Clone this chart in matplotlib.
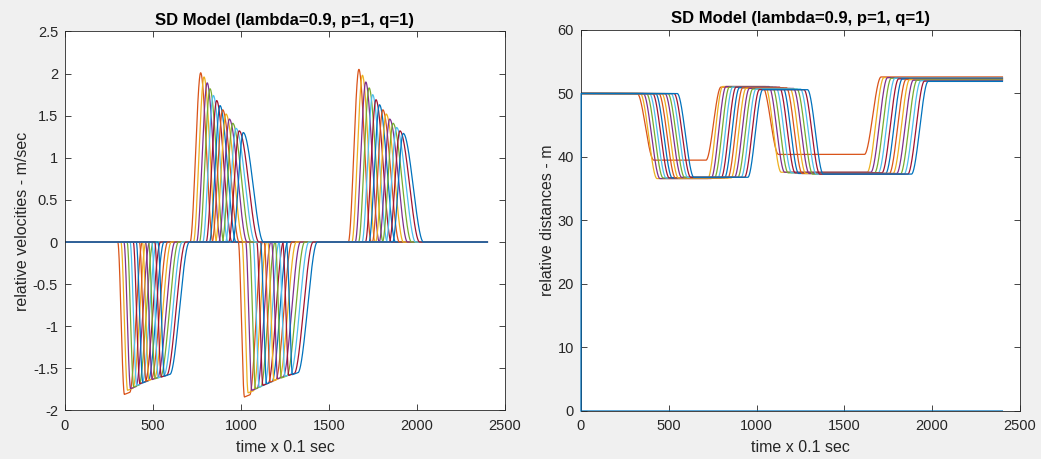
import numpy as np
import matplotlib
matplotlib.use("Agg")
import matplotlib.pyplot as plt

plt.rcParams['font.family'] = ['Liberation Sans', 'DejaVu Sans']

# ---------------- data ----------------
t_max = 2400
title_text = "SD Model (lambda=0.9, p=1, q=1)"
x_label = "time x 0.1 sec"
y_label_vel = "relative velocities - m/sec"
y_label_dist = "relative distances - m"
x_ticks = [0, 500, 1000, 1500, 2000, 2500]
vel_ticks = [-2, -1.5, -1, -0.5, 0, 0.5, 1, 1.5, 2, 2.5]
vel_tick_labels = ['-2', '-1.5', '-1', '-0.5', '0', '0.5', '1', '1.5', '2', '2.5']
dist_ticks = [0, 10, 20, 30, 40, 50, 60]

# 14 following vehicles (plus the leader at zero)
# velocity pulse A (first deceleration): start times, bottom values
velA_start = [300, 318, 335, 353, 370, 388, 405, 423, 440, 458, 475, 493, 510, 528]
velA_amp = [-1.84, -1.79, -1.77, -1.75, -1.73, -1.71, -1.70, -1.68, -1.67, -1.66, -1.65, -1.64, -1.63, -1.62]
# velocity pulse C (second deceleration)
velC_start = [985, 1006, 1027, 1048, 1069, 1090, 1111, 1132, 1153, 1174, 1195, 1216, 1237, 1258]
velC_amp = [-1.87, -1.82, -1.79, -1.77, -1.75, -1.73, -1.71, -1.69, -1.67, -1.65, -1.64, -1.62, -1.61, -1.60]
neg_return = [72, 75, 78, 81, 84, 87, 90, 93, 96, 99, 102, 105, 108, 111]
# velocity pulse B (first acceleration): peak times and peak values
velB_peak_t = [771, 790, 808, 824, 843, 862, 881, 896, 915, 934, 953, 972, 990, 1013]
velB_peak = [2.01, 1.96, 1.89, 1.82, 1.74, 1.68, 1.62, 1.57, 1.52, 1.46, 1.41, 1.35, 1.32, 1.30]
# velocity pulse D (second acceleration)
velD_peak_t = [1670, 1690, 1709, 1728, 1748, 1767, 1787, 1806, 1825, 1845, 1864, 1884, 1903, 1922]
velD_peak = [2.05, 1.98, 1.90, 1.83, 1.75, 1.69, 1.63, 1.57, 1.52, 1.46, 1.41, 1.36, 1.32, 1.29]
pos_fall = [70, 73, 77, 80, 84, 87, 91, 94, 98, 101, 105, 108, 112, 115]

# distances: transition start times and levels
dist_init = 50.0
dist_drop1_t = [320, 338, 355, 373, 390, 408, 425, 443, 460, 478, 495, 513, 530, 548]
dist_low1 = [39.5, 36.6, 36.6, 36.7, 36.7, 36.7, 36.7, 36.7, 36.7, 36.8, 36.8, 36.8, 36.8, 36.8]
dist_rise1_t = [712, 722, 741, 760, 779, 798, 817, 836, 855, 874, 893, 912, 931, 950]
dist_high1 = [51.0, 51.1, 51.1, 51.0, 51.0, 51.0, 50.9, 50.9, 50.8, 50.8, 50.7, 50.7, 50.6, 50.6]
dist_drop2_t = [1035, 1050, 1070, 1090, 1110, 1130, 1150, 1170, 1190, 1210, 1230, 1250, 1270, 1290]
dist_low2 = [40.4, 37.6, 37.6, 37.5, 37.5, 37.5, 37.4, 37.4, 37.4, 37.4, 37.3, 37.3, 37.3, 37.3]
dist_rise2_t = [1614, 1630, 1651, 1672, 1693, 1714, 1735, 1756, 1777, 1798, 1819, 1840, 1861, 1882]
dist_final = [52.6, 52.5, 52.5, 52.4, 52.4, 52.3, 52.3, 52.2, 52.2, 52.1, 52.1, 52.0, 51.95, 51.9]

colors = ['#0072BD', '#D95319', '#EDB120', '#7E2F8E', '#77AC30', '#4DBEEE', '#A2142F']

# ---------------- build curves ----------------
t = np.arange(0, t_max + 1)


def edge(t0, dur):
    u = np.clip((t - t0) / dur, 0.0, 1.0)
    return u * u * (3 - 2 * u)


def neg_pulse(s, amp, ret, drop=38, plat=30):
    level = amp * (1 - 0.03 * np.clip((t - s) / (drop + plat), 0, 1))
    return level * edge(s, drop) * (1 - edge(s + drop + plat, ret))


def pos_pulse(tp, peak, fall, rise=60):
    return peak * edge(tp - rise, rise) * (1 - edge(tp, fall))


vel_lines = [np.zeros_like(t, dtype=float)]
dist_lines = [np.zeros_like(t, dtype=float)]
for i in range(len(velA_start)):
    v = (neg_pulse(velA_start[i], velA_amp[i], neg_return[i])
         + pos_pulse(velB_peak_t[i], velB_peak[i], pos_fall[i])
         + neg_pulse(velC_start[i], velC_amp[i], neg_return[i], drop=35)
         + pos_pulse(velD_peak_t[i], velD_peak[i], pos_fall[i]))
    vel_lines.append(v)
    d = (dist_init
         + (dist_low1[i] - dist_init) * edge(dist_drop1_t[i], 95)
         + (dist_high1[i] - dist_low1[i]) * edge(dist_rise1_t[i], 85)
         + (dist_low2[i] - dist_high1[i]) * edge(dist_drop2_t[i], 90)
         + (dist_final[i] - dist_low2[i]) * edge(dist_rise2_t[i], 95))
    d[0] = 0.0
    dist_lines.append(d)

# ---------------- figure ----------------
fig = plt.figure(figsize=(10.41, 4.59), dpi=100, facecolor='#f0f0f0')
ax1 = fig.add_axes([0.0624, 0.1057, 0.4227, 0.8257])
ax2 = fig.add_axes([0.5581, 0.1046, 0.4217, 0.8301])

for k, v in enumerate(vel_lines):
    ax1.plot(t, v, color=colors[k % 7], lw=0.9)
n_d = len(dist_lines)
for k, d in enumerate(dist_lines):
    last = (k == n_d - 1)
    ax2.plot(t, d, color=colors[k % 7], lw=0.9, zorder=3 if last else 2,
             clip_on=not last)

ax1.set_xlim(0, 2500)
ax1.set_ylim(-2, 2.5)
ax1.set_yticks(vel_ticks)
ax1.set_yticklabels(vel_tick_labels)
ax1.set_ylabel(y_label_vel, fontsize=11.5, color='#262626', labelpad=2)

ax2.set_xlim(0, 2500)
ax2.set_ylim(0, 60)
ax2.set_yticks(dist_ticks)
ax2.set_yticklabels([str(v) for v in dist_ticks])
ax2.set_ylabel(y_label_dist, fontsize=11.5, color='#262626', labelpad=2)

for ax in (ax1, ax2):
    ax.set_facecolor('white')
    ax.set_xticks(x_ticks)
    ax.set_xticklabels([str(v) for v in x_ticks])
    ax.set_xlabel(x_label, fontsize=11.5, color='#262626', labelpad=5)
    ax.set_title(title_text, fontsize=12, fontweight='bold', color='black', pad=5)
    ax.tick_params(direction='in', top=True, right=True, length=4, width=0.6,
                   labelsize=10.5, colors='#262626')
    ax.tick_params(axis='x', pad=6)
    ax.tick_params(axis='y', pad=5)
    for sp in ax.spines.values():
        sp.set_color('#262626')
        sp.set_linewidth(0.6)

fig.savefig('out.png', dpi=100, facecolor=fig.get_facecolor())
